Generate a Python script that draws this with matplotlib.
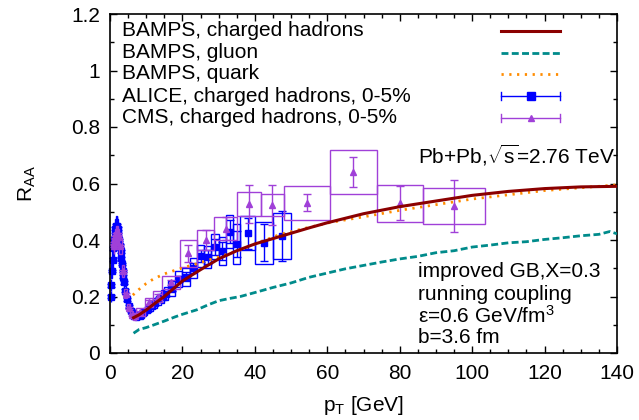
import numpy as np
import matplotlib
matplotlib.use("Agg")
import matplotlib.pyplot as plt
from matplotlib.ticker import MultipleLocator

plt.rcParams['font.family'] = ['Liberation Sans', 'DejaVu Sans']
plt.rcParams['mathtext.fontset'] = 'custom'
plt.rcParams['mathtext.rm'] = 'Liberation Sans'
plt.rcParams['mathtext.it'] = 'Liberation Sans'
plt.rcParams['mathtext.bf'] = 'Liberation Sans'

# ---------------- data ----------------
# BAMPS charged hadrons
ch_pt = [6.5, 8, 10, 12, 15, 20, 25, 30, 35, 40, 45, 50, 55, 60, 70, 80, 90, 100, 110, 120, 130, 140]
ch_raa = [0.125, 0.135, 0.152, 0.172, 0.200, 0.255, 0.295, 0.333, 0.362, 0.386, 0.405, 0.424, 0.443, 0.461, 0.493, 0.518, 0.538, 0.558, 0.572, 0.582, 0.588, 0.590]

# BAMPS gluon
gl_pt = [6.5, 8, 10, 12, 15, 18, 20, 24, 27, 30, 33, 36, 40, 45, 50, 55, 60, 65, 70, 75, 80, 85, 90, 95, 100, 105, 110, 115, 120, 125, 130, 135, 138, 140]
gl_raa = [0.070, 0.083, 0.090, 0.099, 0.113, 0.128, 0.137, 0.153, 0.170, 0.185, 0.193, 0.200, 0.214, 0.232, 0.248, 0.268, 0.283, 0.298, 0.310, 0.322, 0.333, 0.342, 0.355, 0.362, 0.375, 0.382, 0.390, 0.394, 0.402, 0.408, 0.415, 0.420, 0.430, 0.422]

# BAMPS quark
qu_pt = [6.3, 7, 8, 10, 12, 15, 18, 21, 25, 30, 35, 40, 47, 55, 60.8, 70, 80, 90, 100, 110, 120, 130, 140]
qu_raa = [0.205, 0.213, 0.225, 0.246, 0.262, 0.280, 0.293, 0.305, 0.320, 0.340, 0.360, 0.385, 0.420, 0.445, 0.462, 0.482, 0.505, 0.525, 0.545, 0.560, 0.575, 0.585, 0.595]

# ALICE charged hadrons 0-5%
alice_edges = [0.15, 0.2, 0.4, 0.6, 0.8, 1.0, 1.2, 1.4, 1.6, 1.8, 2.0, 2.2, 2.4, 2.6, 2.8, 3.0,
               3.2, 3.4, 3.6, 3.8, 4.0, 4.5, 5.0, 5.5, 6.0, 6.5, 7.0, 8, 9, 10, 11, 12, 13, 14,
               15, 16, 18, 20, 22, 24, 26, 28, 30, 32, 34, 36, 40, 45, 50]
alice_raa = [0.20, 0.24, 0.29, 0.33, 0.37, 0.40, 0.42, 0.44, 0.45, 0.45, 0.44, 0.42, 0.40, 0.38,
             0.36, 0.335, 0.315, 0.29, 0.27, 0.25, 0.22, 0.19, 0.165, 0.15, 0.14, 0.132, 0.13,
             0.135, 0.145, 0.155, 0.165, 0.178, 0.19, 0.20, 0.21, 0.228, 0.262, 0.27, 0.30,
             0.343, 0.34, 0.376, 0.36, 0.43, 0.386, 0.424, 0.39, 0.414]
alice_stat = [0.005] * 27 + [0.005, 0.005, 0.006, 0.006, 0.007, 0.008, 0.008, 0.009, 0.010,
              0.012, 0.015, 0.018, 0.022, 0.025, 0.028, 0.032, 0.040, 0.045, 0.055, 0.065, 0.087]
alice_sys = [0.020, 0.022, 0.025, 0.028, 0.030, 0.032, 0.034, 0.035, 0.036, 0.036, 0.035, 0.034,
             0.032, 0.030, 0.029, 0.027, 0.025, 0.023, 0.022, 0.020, 0.018, 0.016, 0.014, 0.013,
             0.012, 0.012, 0.012, 0.013, 0.014, 0.015, 0.016, 0.018, 0.020, 0.022, 0.024, 0.026,
             0.030, 0.032, 0.035, 0.038, 0.040, 0.045, 0.050, 0.060, 0.070, 0.060, 0.075, 0.080]

# CMS charged hadrons 0-5%
cms_edges = [1.0, 1.1, 1.2, 1.4, 1.6, 1.8, 2.0, 2.2, 2.4, 3.2, 4.0, 4.8, 5.6, 6.4, 7.2, 9.6,
             12.0, 14.4, 19.2, 24.0, 28.8, 35.2, 41.6, 48.0, 60.8, 73.6, 86.4, 103.6]
cms_raa = [0.38, 0.39, 0.40, 0.41, 0.42, 0.42, 0.42, 0.41, 0.38, 0.29, 0.21, 0.16, 0.135, 0.13,
           0.145, 0.18, 0.20, 0.25, 0.353, 0.40, 0.44, 0.527, 0.524, 0.532, 0.64, 0.53, 0.52]
cms_stat = [0.004, 0.004, 0.004, 0.004, 0.004, 0.004, 0.004, 0.004, 0.004, 0.004, 0.004, 0.004,
            0.004, 0.004, 0.005, 0.006, 0.008, 0.010, 0.030, 0.035, 0.040, 0.068, 0.070, 0.031,
            0.054, 0.060, 0.091]
cms_sys = [0.030, 0.030, 0.030, 0.030, 0.030, 0.030, 0.030, 0.030, 0.028, 0.022, 0.017, 0.013,
           0.012, 0.012, 0.014, 0.016, 0.018, 0.022, 0.048, 0.035, 0.040, 0.043, 0.040, 0.060,
           0.077, 0.065, 0.064]

legend_labels = ["BAMPS, charged hadrons", "BAMPS, gluon", "BAMPS, quark",
                 "ALICE, charged hadrons, 0-5%", "CMS, charged hadrons, 0-5%"]

# ---------------- styles ----------------
c_red = '#8b0000'
c_teal = '#008b8b'
c_orange = '#ff8c00'
c_blue = '#0000ff'
c_purple = '#a040d8'

fig = plt.figure(figsize=(6.39, 4.20), dpi=100)
ax = fig.add_axes([110/639, 1-353/420, 507/639, 339/420])

def draw_data(edges, raa, stat, sys, color, marker, msize, z):
    e = np.array(edges)
    lo, hi = e[:-1], e[1:]
    x = 0.5 * (lo + hi)
    y = np.array(raa)
    s = np.array(sys)
    ax.bar(lo, 2*s, bottom=y - s, width=hi - lo, align='edge', fill=False,
           edgecolor=color, linewidth=1.0, zorder=z, clip_on=False)
    ax.errorbar(x, y, yerr=np.array(stat), fmt='none', ecolor=color, elinewidth=1.0,
                capsize=3, capthick=1.0, zorder=z+0.1, clip_on=False)
    ax.plot(x, y, linestyle='none', marker=marker, color=color, markersize=msize,
            zorder=z+0.2, clip_on=False)

draw_data(alice_edges, alice_raa, alice_stat, alice_sys, c_blue, 's', 5, 2)
draw_data(cms_edges, cms_raa, cms_stat, cms_sys, c_purple, '^', 4, 3)

ax.plot(ch_pt, ch_raa, color=c_red, lw=2.2, zorder=6)
ax.plot(gl_pt, gl_raa, color=c_teal, lw=2.0, linestyle=(0, (2.5, 1.2)), zorder=5)
ax.plot(qu_pt, qu_raa, color=c_orange, lw=2.0, linestyle=(0, (0.8, 2.0)), zorder=5)

ax.set_xlim(0, 140)
ax.set_ylim(0, 1.2)
ax.xaxis.set_major_locator(MultipleLocator(20))
ax.xaxis.set_minor_locator(MultipleLocator(5))
ax.yaxis.set_major_locator(MultipleLocator(0.2))
ax.yaxis.set_minor_locator(MultipleLocator(0.1))
ax.set_yticks([0, 0.2, 0.4, 0.6, 0.8, 1.0, 1.2])
ax.set_yticklabels(['0', '0.2', '0.4', '0.6', '0.8', '1', '1.2'])
ax.tick_params(which='both', direction='in', top=True, right=True, labelsize=15, width=1.0)
ax.tick_params(which='major', length=5)
ax.tick_params(axis='x', which='major', pad=8)
ax.tick_params(axis='y', which='major', pad=7)
ax.tick_params(which='minor', length=3)
for sp in ax.spines.values():
    sp.set_linewidth(1.2)

ax.set_xlabel('p$_{\\mathrm{T}}$ [GeV]', fontsize=15, labelpad=8)
ax.set_ylabel('R$_{\\mathrm{AA}}$', fontsize=15, labelpad=24)

# legend (gnuplot style: text left, sample right)
ly = [0.950, 0.886, 0.824, 0.758, 0.694]
x0, x1 = 0.772, 0.888
tr = ax.transAxes
for lab, yy in zip(legend_labels, ly):
    ax.text(0.0237, yy, lab, transform=tr, fontsize=15, va='center', ha='left')
ax.plot([x0, x1], [ly[0]]*2, transform=tr, color=c_red, lw=2.2)
ax.plot([x0, x1], [ly[1]]*2, transform=tr, color=c_teal, lw=2.0, linestyle=(0, (2.5, 1.2)))
ax.plot([x0, x1], [ly[2]]*2, transform=tr, color=c_orange, lw=2.0, linestyle=(0, (0.8, 2.0)))
for yy, col, mk, ms in [(ly[3], c_blue, 's', 6), (ly[4], c_purple, '^', 4)]:
    ax.plot([x0, x1], [yy]*2, transform=tr, color=col, lw=1.0)
    ax.plot([x0, x0], [yy-0.012, yy+0.012], transform=tr, color=col, lw=1.0)
    ax.plot([x1, x1], [yy-0.012, yy+0.012], transform=tr, color=col, lw=1.0)
    ax.plot([(x0+x1)/2], [yy], transform=tr, color=col, marker=mk, markersize=ms)

ax.text(0.6075, 0.584, 'Pb+Pb,$\\sqrt{\\mathrm{s}}$=2.76 TeV', transform=tr, fontsize=15,
        va='center', ha='left')
for txt, yy in [('improved GB,X=0.3', 0.239), ('running coupling', 0.174),
                ('ε=0.6 GeV/fm$^3$', 0.109), ('b=3.6 fm', 0.047)]:
    ax.text(0.6075, yy, txt, transform=tr, fontsize=15, va='center', ha='left')

fig.savefig('out.png', dpi=100)
